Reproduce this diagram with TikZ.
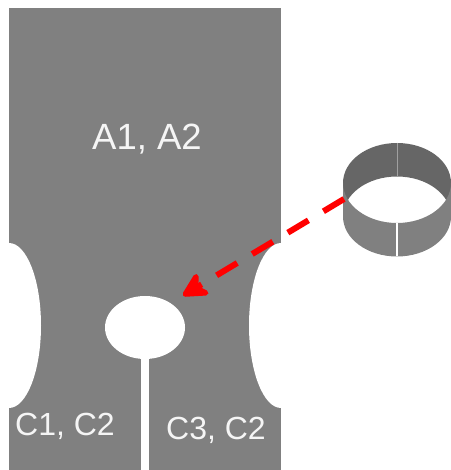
\documentclass[tikz,border=0pt]{standalone}
\usepackage{fontspec}
\setmainfont{Liberation Sans}
\usetikzlibrary{arrows.meta}
\begin{document}
\begin{tikzpicture}[x=1pt,y=1pt]
  % Define colors
  \definecolor{platecolor}{RGB}{128,128,128}
  \definecolor{backcolor}{RGB}{102,102,102}
  \definecolor{seamcolor}{RGB}{160,160,160}
  \definecolor{labelcolor}{RGB}{245,245,245}
  \tikzset{
    biglabel/.style={text=labelcolor, font=\fontsize{36.5}{37}\selectfont},
    smalllabel/.style={text=labelcolor, font=\fontsize{32}{32}\selectfont},
    movearrow/.style={red, line width=6pt, dash pattern=on 24pt off 17.5pt,
      -{Stealth[length=31pt, width=32pt, inset=10pt, round, line width=5.5pt]}},
    ringwall/.style={x radius=54pt, y radius=40pt}
  }
  \useasboundingbox (0,0) rectangle (450,470);

  % Draw the plate with its cut-outs
  \fill[platecolor] (9,0) rectangle (281,462);
  \fill[white] (9,144.5) ellipse [x radius=32pt, y radius=82.5pt];
  \fill[white] (281,144.5) ellipse [x radius=32pt, y radius=82.5pt];
  \fill[white] (145,142.5) ellipse [x radius=40pt, y radius=31.5pt];
  \fill[white] (141,0) rectangle (149,112);

  % Draw the ring, back wall first
  \fill[backcolor] (343,287) arc [start angle=180, end angle=0, ringwall]
    -- (451,253.5) arc [start angle=0, end angle=180, ringwall] -- cycle;
  \fill[platecolor] (343,287) arc [start angle=180, end angle=360, ringwall]
    -- (451,253.5) arc [start angle=360, end angle=180, ringwall] -- cycle;
  \draw[seamcolor, line width=1pt] (397,327) -- (397,294);
  \draw[white, line width=1.5pt] (397,247) -- (397,213.5);

  % Add the dashed arrow
  \coordinate (ringedge) at (344,271);
  \coordinate (holeedge) at (183,174.5);
  \draw[movearrow] (ringedge) -- (holeedge);

  % Add labels
  \node[biglabel] (toplabel) at (147,331) {A1, A2};
  \node[smalllabel] (leftlabel) at (65,44) {C1, C2};
  \node[smalllabel] (rightlabel) at (216,40) {C3, C2};
\end{tikzpicture}
\end{document}
